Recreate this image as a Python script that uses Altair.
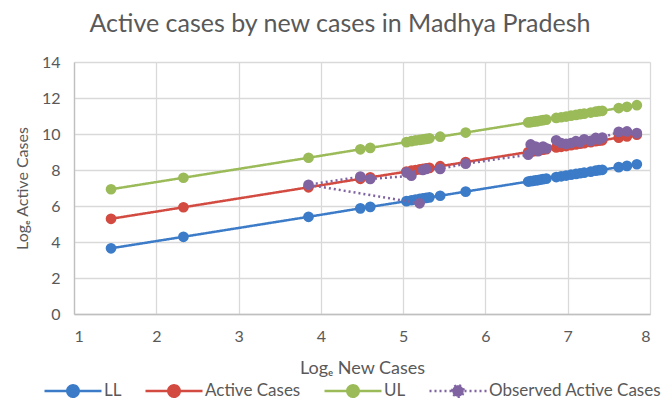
import altair as alt
import pandas as pd

# ---- data ----
x_vals = [1.45, 2.33, 3.85, 4.48, 4.60, 5.04, 5.10, 5.15, 5.20, 5.24, 5.28, 5.32,
          5.45, 5.76, 6.52, 6.55, 6.58, 6.61, 6.64, 6.67, 6.70, 6.74, 6.86, 6.92,
          6.98, 7.04, 7.10, 7.15, 7.20, 7.28, 7.34, 7.38, 7.42, 7.62, 7.72, 7.84]
ll_vals = [3.65, 4.29, 5.40, 5.87, 5.95, 6.27, 6.32, 6.36, 6.39, 6.42, 6.45, 6.48,
           6.57, 6.80, 7.36, 7.38, 7.40, 7.42, 7.44, 7.47, 7.49, 7.52, 7.61, 7.65,
           7.69, 7.74, 7.78, 7.82, 7.85, 7.91, 7.96, 7.99, 8.01, 8.16, 8.23, 8.32]
active_vals = [5.29, 5.93, 7.04, 7.51, 7.59, 7.91, 7.96, 8.00, 8.03, 8.06, 8.09, 8.12,
               8.21, 8.44, 9.00, 9.02, 9.04, 9.06, 9.08, 9.11, 9.13, 9.16, 9.25, 9.29,
               9.33, 9.38, 9.42, 9.46, 9.49, 9.55, 9.60, 9.63, 9.65, 9.80, 9.87, 9.96]
ul_vals = [6.93, 7.57, 8.68, 9.15, 9.23, 9.55, 9.60, 9.64, 9.67, 9.70, 9.73, 9.76,
           9.85, 10.08, 10.64, 10.66, 10.68, 10.70, 10.72, 10.75, 10.77, 10.80, 10.89, 10.93,
           10.97, 11.02, 11.06, 11.10, 11.13, 11.19, 11.24, 11.27, 11.29, 11.44, 11.51, 11.60]

# observed points, in the order the dotted line joins them
obs_x = [5.20, 3.85, 4.48, 4.60, 5.10, 5.04, 5.24, 5.28, 5.45, 5.76,
         6.52, 6.55, 6.58, 6.61, 6.64, 6.67, 6.70, 6.74, 6.86, 6.92,
         6.98, 7.04, 7.10, 7.15, 7.20, 7.28, 7.34, 7.38, 7.42, 7.62, 7.72, 7.84]
obs_y = [6.15, 7.18, 7.63, 7.50, 7.68, 7.87, 8.00, 8.06, 8.06, 8.35,
         8.85, 9.42, 9.15, 9.30, 9.05, 9.22, 9.30, 9.20, 9.65, 9.50,
         9.45, 9.50, 9.60, 9.55, 9.70, 9.62, 9.78, 9.70, 9.80, 10.12, 10.14, 10.05]

series_names = ["LL", "Active Cases", "UL", "Observed Active Cases"]
series_colors = ["#3B7BC8", "#D24A40", "#9BBB59", "#8064A2"]
series_dash = [[1, 0], [1, 0], [1, 0], [2, 3]]

x_ticks = [1, 2, 3, 4, 5, 6, 7, 8]
y_ticks = [0, 2, 4, 6, 8, 10, 12, 14]

rows = []
for name, vals in zip(series_names[:3], [ll_vals, active_vals, ul_vals]):
    for i, (x, y) in enumerate(zip(x_vals, vals)):
        rows.append({"series": name, "x": x, "y": y, "ord": i})
for i, (x, y) in enumerate(zip(obs_x, obs_y)):
    rows.append({"series": series_names[3], "x": x, "y": y, "ord": i})
df = pd.DataFrame(rows)

FONT = "Lato"
GREY = "#595959"

sym_path = "M-1,0L1,0M-0.2,0A0.2,0.2,0,1,1,0.2,0A0.2,0.2,0,1,1,-0.2,0"

color_scale = alt.Scale(domain=series_names, range=series_colors)
dash_scale = alt.Scale(domain=series_names, range=series_dash)

x_enc = alt.X("x:Q", scale=alt.Scale(domain=[1, 8], nice=False),
              axis=alt.Axis(values=x_ticks, title="Logₑ New Cases", format="d",
                            titleFontSize=18))
y_enc = alt.Y("y:Q", scale=alt.Scale(domain=[0, 14], nice=False),
              axis=alt.Axis(values=y_ticks, title="Logₑ Active Cases", format="d",
                            titleFontSize=16))

legend = alt.Legend(
    title=None, orient="none", direction="horizontal", legendX=-31, legendY=299,
    symbolType=sym_path, symbolSize=3249, symbolStrokeWidth=2.5,
    labelFont=FONT, labelFontSize=17, labelColor=GREY, labelOffset=1,
    labelLimit=300, columnPadding=18, gridAlign="none",
)

layers = []
for k, name in enumerate(series_names):
    base = alt.Chart(df).transform_filter(alt.datum.series == name)
    line = base.mark_line(strokeWidth=2.5).encode(
        x=x_enc, y=y_enc,
        color=alt.Color("series:N", scale=color_scale, legend=legend),
        strokeDash=alt.StrokeDash("series:N", scale=dash_scale, legend=legend),
        order="ord:Q",
    )
    pts = base.mark_point(filled=True, opacity=1, size=115).encode(
        x=x_enc, y=y_enc,
        color=alt.Color("series:N", scale=color_scale, legend=legend),
    )
    layers += [line, pts]

chart = alt.layer(*layers).properties(
    width=576, height=252,
    autosize=alt.AutoSizeParams(type="none"),
    padding={"left": 66, "top": 54, "right": 12, "bottom": 86},
    title=alt.TitleParams("Active cases by new cases in Madhya Pradesh", font=FONT,
                          fontSize=25, fontWeight="normal", color=GREY,
                          anchor="middle", dx=-22, offset=17),
).configure_view(stroke=None).configure_axis(
    gridColor="#D9D9D9", gridWidth=1.3, domainColor="#BFBFBF", domainWidth=1.3,
    ticks=False, labelFont=FONT, labelFontSize=16, labelColor=GREY,
    titleFont=FONT, titleColor=GREY, titleFontWeight="normal",
).configure_axisX(labelPadding=14, titlePadding=15).configure_axisY(
    labelPadding=14, titlePadding=11)

chart.save("out.html", embed_options={"renderer": "svg", "actions": False})
